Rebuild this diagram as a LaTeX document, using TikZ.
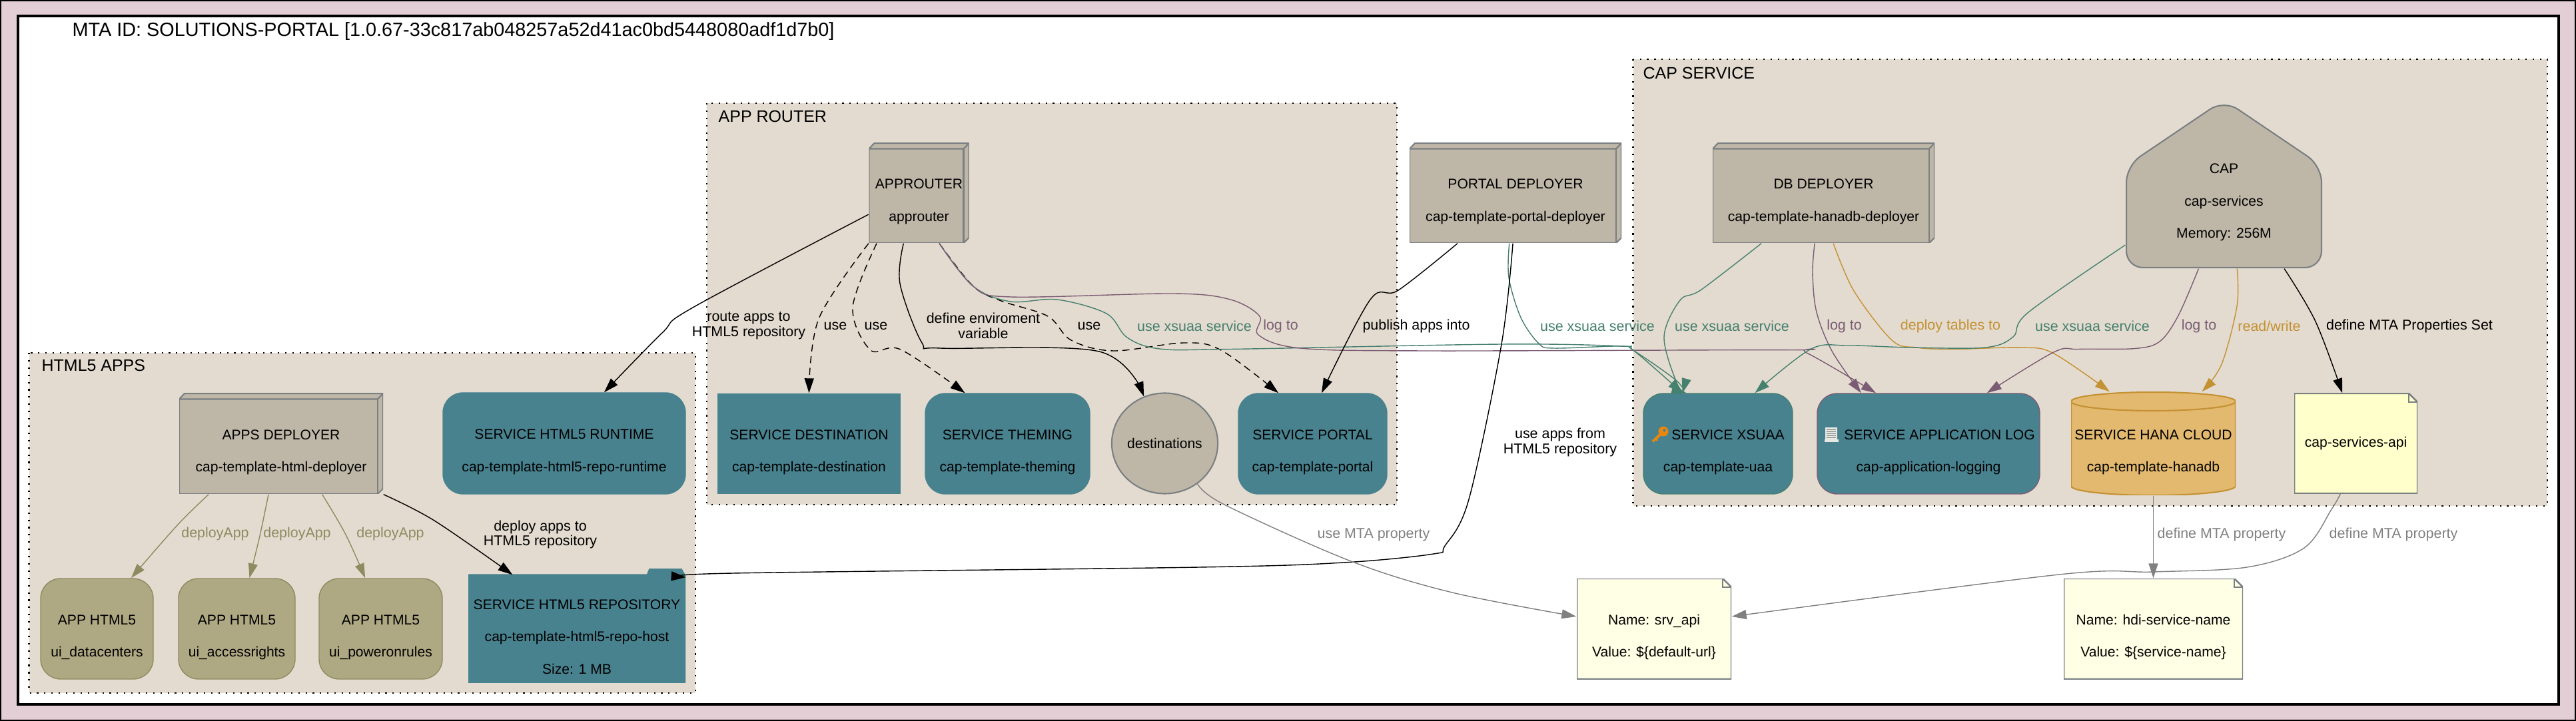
\documentclass[tikz,border=0pt]{standalone}
\usepackage{fontspec}
\setmainfont{Liberation Sans}
\usetikzlibrary{arrows.meta, shapes.geometric}

\definecolor{framepink}{HTML}{E4CED5}
\definecolor{clusterbg}{HTML}{E3DBCF}
\definecolor{svcteal}{HTML}{48828F}
\definecolor{taupe}{HTML}{BEB7A8}
\definecolor{boxline}{HTML}{7A7F82}
\definecolor{appolive}{HTML}{AFA983}
\definecolor{oliveline}{HTML}{8F8A60}
\definecolor{hanagold}{HTML}{E3B96F}
\definecolor{goldline}{HTML}{C49133}
\definecolor{noteyellow}{HTML}{FFFFCC}
\definecolor{notecream}{HTML}{FFFFE6}
\definecolor{xsuaagreen}{HTML}{46806F}
\definecolor{logpurple}{HTML}{7B5C74}
\definecolor{keyorange}{HTML}{E8870E}
\definecolor{scrollgrey}{HTML}{E8E8E2}

\newcommand{\pad}[1][11.5pt]{\rule{0pt}{#1}}

\tikzset{
	block/.style={rectangle, inner sep=0pt, align=center, font=\fontsize{6}{13.8}\selectfont},
	svcbox/.style={block, fill=svcteal},
	svcround/.style={svcbox, rounded corners=0.3cm, draw=svcteal},
	appbox/.style={block, fill=appolive, draw=oliveline, rounded corners=0.3cm},
	box3d/.style={block, path picture={
		\coordinate (nw) at (path picture bounding box.north west);
		\coordinate (ne) at (path picture bounding box.north east);
		\coordinate (se) at (path picture bounding box.south east);
		\coordinate (sw) at (path picture bounding box.south west);
		\filldraw[fill=taupe, draw=boxline, line width=0.6pt] ([yshift=-0.085cm]nw) -- ([xshift=0.08cm]nw) -- (ne) -- ([yshift=0.08cm]se) -- ([xshift=-0.08cm]se) -- (sw) -- cycle;
		\draw[boxline, line width=0.6pt] ([yshift=-0.085cm]nw) -- ([xshift=-0.08cm, yshift=-0.085cm]ne) -- (ne);
		\draw[boxline, line width=0.6pt] ([xshift=-0.08cm, yshift=-0.085cm]ne) -- ([xshift=-0.08cm]se);
	}},
	house/.style={block, path picture={
		\coordinate (nw) at (path picture bounding box.north west);
		\coordinate (ne) at (path picture bounding box.north east);
		\coordinate (se) at (path picture bounding box.south east);
		\coordinate (sw) at (path picture bounding box.south west);
		\coordinate (n) at (path picture bounding box.north);
		\filldraw[fill=taupe, draw=boxline, line width=0.6pt, rounded corners=0.25cm] ([yshift=0.05cm]n) -- ([yshift=-0.94cm, xshift=-0.01cm]ne) -- ([xshift=-0.01cm, yshift=0.01cm]se) -- ([xshift=0.01cm, yshift=0.01cm]sw) -- ([yshift=-0.94cm, xshift=0.01cm]nw) -- cycle;
	}},
	drum/.style={block, path picture={
		\coordinate (nw) at (path picture bounding box.north west);
		\coordinate (se) at (path picture bounding box.south east);
		\filldraw[fill=hanagold, draw=goldline, line width=0.6pt] ([yshift=-0.14cm]nw) arc[start angle=180, end angle=0, x radius=1.235cm, y radius=0.14cm] -- ([yshift=0.14cm]se) arc[start angle=0, end angle=-180, x radius=1.235cm, y radius=0.14cm] -- cycle;
		\draw[goldline, line width=0.6pt] ([yshift=-0.14cm]nw) arc[start angle=180, end angle=360, x radius=1.235cm, y radius=0.14cm];
	}},
	foldernode/.style={block, path picture={
		\coordinate (ne) at (path picture bounding box.north east);
		\coordinate (nw) at (path picture bounding box.north west);
		\coordinate (se) at (path picture bounding box.south east);
		\coordinate (sw) at (path picture bounding box.south west);
		\filldraw[fill=svcteal, draw=svcteal] (sw) -- ([yshift=-0.086cm]nw) -- ([xshift=-0.575cm, yshift=-0.086cm]ne) -- ([xshift=-0.54cm]ne) -- ([xshift=-0.06cm]ne) -- ([yshift=-0.11cm]ne) -- (se) -- cycle;
	}},
	notenode/.style={block, path picture={
		\coordinate (ne) at (path picture bounding box.north east);
		\coordinate (nw) at (path picture bounding box.north west);
		\coordinate (se) at (path picture bounding box.south east);
		\coordinate (sw) at (path picture bounding box.south west);
		\filldraw[fill=#1, draw=boxline, line width=0.7pt] (nw) -- ([xshift=-0.13cm]ne) -- ([yshift=-0.13cm]ne) -- (se) -- (sw) -- cycle;
		\draw[boxline, line width=0.4pt] ([xshift=-0.13cm]ne) -- ([xshift=-0.13cm, yshift=-0.13cm]ne) -- ([yshift=-0.13cm]ne);
	}},
	cluster/.style={fill=clusterbg, draw=black, line width=0.6pt, dash pattern=on 0.6pt off 2.5pt},
	clustertitle/.style={anchor=west, inner sep=0pt, font=\fontsize{7.1}{8}\selectfont},
	elabel/.style={inner sep=0pt, align=center, font=\fontsize{6.1}{6.5}\selectfont},
	edge/.style={line width=0.4pt, -{Triangle[length=0.22cm, width=0.14cm]}},
	usedash/.style={edge, dash pattern=on 3pt off 2pt},
	olive/.style={edge, oliveline},
	green/.style={edge, xsuaagreen},
	purple/.style={edge, logpurple},
	gold/.style={edge, goldline},
	grey/.style={edge, gray},
	thru/.style={smooth, tension=0.55},
}

\begin{document}
\begin{tikzpicture}
	% frame and clusters, all in cm with the origin top left
	\useasboundingbox (0, 0) rectangle (38.67, -10.83);
	\draw[fill=framepink, draw=black, line width=0.4pt] (0.01, -0.01) rectangle (38.66, -10.82);
	\draw[fill=white, draw=black, line width=1pt] (0.27, -0.24) rectangle (38.41, -10.58);
	\node(mtatitle) [clustertitle, font=\fontsize{8.2}{9}\selectfont] at (1.08, -0.47) {MTA ID: SOLUTIONS-PORTAL [1.0.67-33c817ab048257a52d41ac0bd5448080adf1d7b0]};

	\draw[cluster] (0.435, -5.30) rectangle (10.44, -10.41);
	\draw[cluster] (10.61, -1.55) rectangle (20.97, -7.58);
	\draw[cluster] (24.515, -0.89) rectangle (38.24, -7.60);
	\node(htmltitle) [clustertitle] at (0.62, -5.49) {HTML5 APPS};
	\node(routertitle) [clustertitle] at (10.78, -1.75) {APP ROUTER};
	\node(captitle) [clustertitle] at (24.66, -1.10) {CAP SERVICE};

	% html5 apps
	\node(appsdeployer) [box3d, minimum width=3.06cm, minimum height=1.51cm] at (4.22, -6.665) {\pad APPS DEPLOYER\\cap-template-html-deployer};
	\node(runtime) [svcround, minimum width=3.64cm, minimum height=1.52cm] at (8.47, -6.66) {\pad SERVICE HTML5 RUNTIME\\cap-template-html5-repo-runtime};
	\node(datacenters) [appbox, minimum width=1.69cm, minimum height=1.51cm] at (1.455, -9.445) {\pad APP HTML5\\ui\_datacenters};
	\node(accessrights) [appbox, minimum width=1.75cm, minimum height=1.51cm] at (3.555, -9.445) {\pad APP HTML5\\ui\_accessrights};
	\node(poweronrules) [appbox, minimum width=1.85cm, minimum height=1.51cm] at (5.715, -9.445) {\pad APP HTML5\\ui\_poweronrules};
	\node(repohost) [foldernode, minimum width=3.26cm, minimum height=1.71cm] at (8.66, -9.40) {\pad[13.5pt]SERVICE HTML5 REPOSITORY\\cap-template-html5-repo-host\\Size: 1 MB};

	% app router
	\node(approuter) [box3d, minimum width=1.50cm, minimum height=1.50cm] at (13.795, -2.90) {\pad APPROUTER\\approuter};
	\node(destination) [svcbox, minimum width=2.75cm, minimum height=1.51cm] at (12.145, -6.665) {\pad SERVICE DESTINATION\\cap-template-destination};
	\node(theming) [svcround, minimum width=2.47cm, minimum height=1.51cm] at (15.125, -6.665) {\pad SERVICE THEMING\\cap-template-theming};
	\node(destinations) [block, ellipse, fill=taupe, draw=boxline, line width=0.6pt, minimum width=1.50cm, minimum height=1.51cm] at (17.485, -6.66) {destinations};
	\node(portal) [svcround, minimum width=2.23cm, minimum height=1.51cm] at (19.705, -6.665) {\pad SERVICE PORTAL\\cap-template-portal};

	% deployers and cap service
	\node(portaldeployer) [box3d, minimum width=3.18cm, minimum height=1.50cm] at (22.75, -2.90) {\pad PORTAL DEPLOYER\\cap-template-portal-deployer};
	\node(dbdeployer) [box3d, minimum width=3.33cm, minimum height=1.50cm] at (27.375, -2.90) {\pad DB DEPLOYER\\cap-template-hanadb-deployer};
	\node(capservices) [house, minimum width=2.95cm, minimum height=2.48cm] at (33.385, -2.79) {\pad[18.5pt]CAP\\cap-services\\Memory: 256M};
	\node(xsuaa) [svcround, draw=xsuaagreen, minimum width=2.24cm, minimum height=1.51cm] at (25.79, -6.665) {\pad\hspace{0.3cm}SERVICE XSUAA\\cap-template-uaa};
	\node(logging) [svcround, draw=logpurple, minimum width=3.34cm, minimum height=1.51cm] at (28.95, -6.665) {\pad\hspace{0.33cm}SERVICE APPLICATION LOG\\cap-application-logging};
	\node(hanadb) [drum, minimum width=2.47cm, minimum height=1.55cm] at (32.325, -6.665) {\pad SERVICE HANA CLOUD\\cap-template-hanadb};
	\node(servicesapi) [notenode=noteyellow, minimum width=1.85cm, minimum height=1.50cm] at (35.365, -6.66) {cap-services-api};

	% key and scroll icons
	\fill[keyorange, even odd rule] (24.97, -6.48) circle (0.075) (24.985, -6.465) circle (0.022);
	\draw[keyorange, line width=1.1pt] (24.92, -6.53) -- (24.81, -6.63);
	\draw[keyorange, line width=0.7pt] (24.86, -6.59) -- (24.88, -6.62);
	\fill[scrollgrey] (27.40, -6.42) rectangle (27.58, -6.60);
	\fill[scrollgrey] (27.39, -6.60) rectangle (27.60, -6.64);
	\foreach \rowy in {-6.45, -6.48, -6.51, -6.54, -6.57}
		\draw[gray, line width=0.2pt] (27.42, \rowy) -- (27.56, \rowy);

	% properties
	\node(srvapi) [notenode=notecream, minimum width=2.32cm, minimum height=1.51cm] at (24.83, -9.445) {\pad Name: srv\_api\\Value: \$\{default-url\}};
	\node(hdiname) [notenode=notecream, minimum width=2.69cm, minimum height=1.51cm] at (32.325, -9.445) {\pad Name: hdi-service-name\\Value: \$\{service-name\}};

	% connectors of the html5 apps
	\draw[olive] plot[thru] coordinates {(appsdeployer.-145) (2.67, -7.88) (datacenters.56)};
	\draw[olive] plot[thru] coordinates {(appsdeployer.-104) (3.90, -8.05) (accessrights.76)};
	\draw[olive] plot[thru] coordinates {(appsdeployer.-51) (5.19, -8.03) (poweronrules.107)};
	\draw[edge] plot[thru] coordinates {(appsdeployer.south east) (6.52, -7.82) ([shift={(-0.965,-0.096)}]repohost.north)};
	\draw[edge] plot[thru] coordinates {(approuter.203) (10.40, -4.62) (9.94, -5.00) (runtime.52)};

	% connectors of the app router
	\draw[usedash] plot[thru] coordinates {(approuter.south west) (12.29, -4.79) (destination.north)};
	\draw[usedash] plot[thru] coordinates {(approuter.-130) (12.80, -4.62) (13.07, -5.26) (13.52, -5.25) (theming.130)};
	\draw[edge] plot[thru] coordinates {(approuter.-107) (13.51, -4.26) (13.84, -5.15) (14.12, -5.23) (16.50, -5.28) (destinations.114)};
	\draw[usedash] plot[thru] coordinates {(approuter.-68) (14.61, -4.30) (15.03, -4.52) (15.73, -4.75) (16.08, -5.11) (16.71, -5.27) (17.77, -5.15) (18.33, -5.26) (portal.124)};
	\draw[green] plot[thru] coordinates {(approuter.-68) (14.61, -4.30) (15.17, -4.53) (15.87, -4.50) (16.61, -4.71) (16.92, -5.07) (17.41, -5.24) (18.47, -5.245) (22.54, -5.17) (24.33, -5.20) (24.53, -5.27) (xsuaa.125)};
	\draw[purple] plot[thru] coordinates {(approuter.-68) (14.61, -4.30) (15.17, -4.46) (17.62, -4.41) (18.47, -4.50) (18.91, -4.75) (18.89, -5.03) (19.52, -5.23) (21.40, -5.27) (26.81, -5.257) (27.12, -5.30) (logging.136)};

	% connectors of the deployers
	\draw[edge] plot[thru] coordinates {(portaldeployer.-139) (20.99, -4.36) (20.57, -4.50) (portal.80)};
	\draw[green] plot[thru] coordinates {(portaldeployer.-97) (22.65, -4.17) (22.83, -4.77) (23.10, -5.16) (23.33, -5.23) (24.33, -5.20) (24.53, -5.27) (25.17, -5.72) (xsuaa.125)};
	\draw[edge] plot[thru] coordinates {(portaldeployer.-93) (22.54, -5.17) (22.05, -7.50) (21.69, -8.20) (21.52, -8.32) (20.17, -8.45) (18.00, -8.52) (11.00, -8.61) (repohost.24)};
	\draw[green] plot[thru] coordinates {(dbdeployer.-141) (25.54, -4.35) (25.22, -4.51) (24.98, -5.06) (25.17, -5.75) (xsuaa.122)};
	\draw[purple] plot[thru] coordinates {(dbdeployer.-100) (27.21, -4.10) (27.27, -4.69) (27.51, -5.29) (logging.143)};
	\draw[gold] plot[thru] coordinates {(dbdeployer.-79) (27.83, -4.37) (28.40, -5.11) (28.77, -5.22) (29.33, -5.245) (30.36, -5.22) (30.83, -5.31) (hanadb.130)};

	% connectors of the cap module
	\draw[green] plot[thru] coordinates {(capservices.-149) (30.45, -4.69) (30.22, -5.06) (29.80, -5.22) (28.68, -5.22) (27.74, -5.19) (27.18, -5.245) (xsuaa.54)};
	\draw[purple] plot[thru] coordinates {(capservices.-107) (32.70, -4.74) (32.42, -5.13) (32.04, -5.236) (31.20, -5.245) (30.83, -5.29) (logging.41)};
	\draw[gold] plot[thru] coordinates {(capservices.-81) (33.58, -4.60) (33.35, -5.47) (hanadb.47)};
	\draw[edge] plot[thru] coordinates {(capservices.-54) (34.76, -4.83) (servicesapi.105)};

	% connectors of the properties
	\draw[grey] plot[thru] coordinates {(destinations.-51) (18.38, -7.58) (20.28, -8.43) (21.80, -8.90) (srvapi.171)};
	\draw[grey] (hanadb.south) -- (hdiname.north);
	\draw[grey] plot[thru] coordinates {(servicesapi.-107) (35.00, -7.65) (34.59, -8.23) (33.73, -8.52) (32.33, -8.59) (30.91, -8.63) (srvapi.9)};

	% edge labels
	\node(lblrepo) [elabel] at (8.11, -8.03) {deploy apps to\\HTML5 repository};
	\node(lbldeploya) [elabel, oliveline] at (3.23, -8.02) {deployApp};
	\node(lbldeployb) [elabel, oliveline] at (4.46, -8.02) {deployApp};
	\node(lbldeployc) [elabel, oliveline] at (5.86, -8.02) {deployApp};
	\node(lblroute) [elabel] at (11.24, -4.89) {route apps to\\HTML5 repository};
	\node(lbluseone) [elabel] at (12.54, -4.90) {use};
	\node(lblusetwo) [elabel] at (13.15, -4.90) {use};
	\node(lbldefine) [elabel] at (14.76, -4.89) {define enviroment\\variable};
	\node(lblusethree) [elabel] at (16.35, -4.90) {use};
	\node(lblxsuaaone) [elabel, xsuaagreen] at (17.93, -4.90) {use xsuaa service};
	\node(lbllogone) [elabel, logpurple] at (19.225, -4.90) {log to};
	\node(lblpublish) [elabel] at (21.26, -4.90) {publish apps into};
	\node(lblxsuaatwo) [elabel, xsuaagreen] at (23.98, -4.90) {use xsuaa service};
	\node(lblapps) [elabel] at (23.42, -6.645) {use apps from\\HTML5 repository};
	\node(lblxsuaathree) [elabel, xsuaagreen] at (26.00, -4.90) {use xsuaa service};
	\node(lbllogtwo) [elabel, logpurple] at (27.685, -4.90) {log to};
	\node(lbltables) [elabel, goldline] at (29.28, -4.90) {deploy tables to};
	\node(lblxsuaafour) [elabel, xsuaagreen] at (31.41, -4.90) {use xsuaa service};
	\node(lbllogthree) [elabel, logpurple] at (33.01, -4.90) {log to};
	\node(lblread) [elabel, goldline] at (34.065, -4.90) {read/write};
	\node(lblset) [elabel] at (36.17, -4.90) {define MTA Properties Set};
	\node(lblmta) [elabel, gray] at (20.62, -8.03) {use MTA property};
	\node(lbldefmta) [elabel, gray] at (33.35, -8.03) {define MTA property};
	\node(lbldefmtb) [elabel, gray] at (35.93, -8.03) {define MTA property};
\end{tikzpicture}
\end{document}
